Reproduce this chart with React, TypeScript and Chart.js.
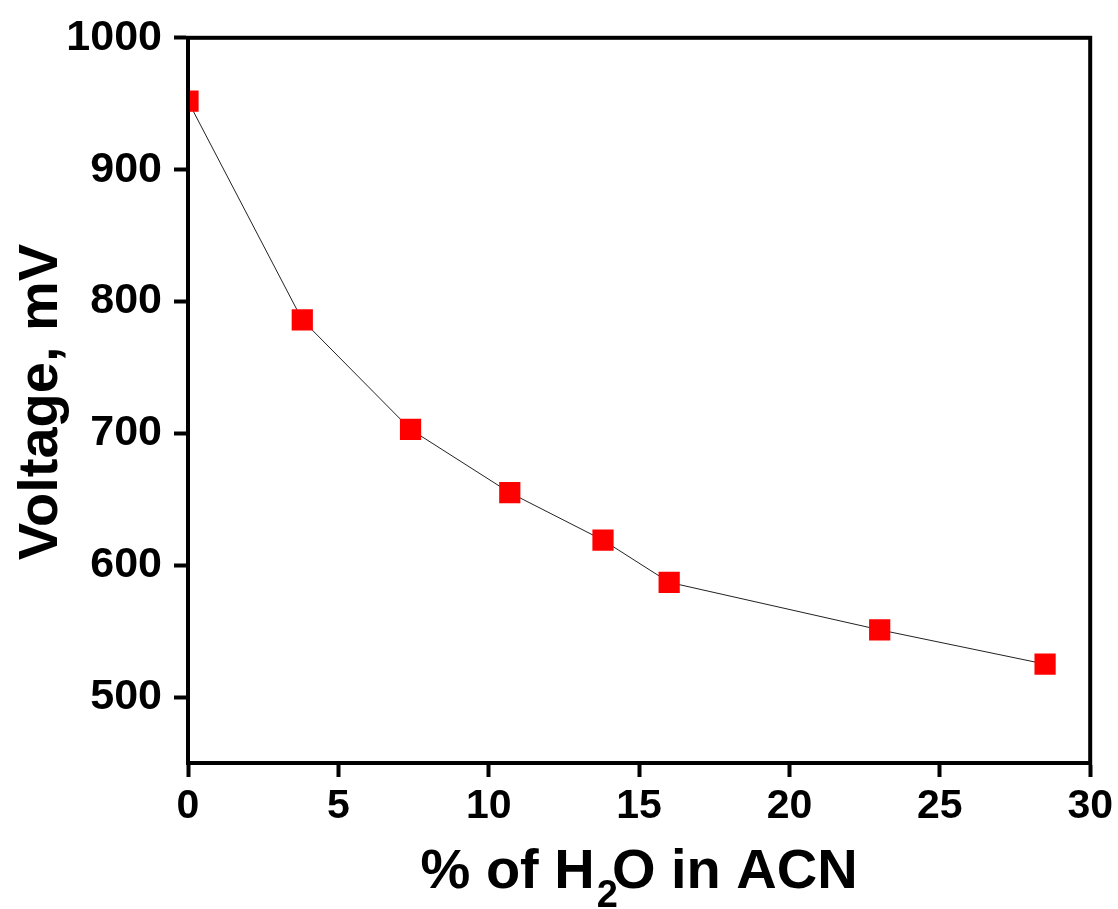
import React, { useEffect, useRef } from "react";
import { Chart, registerables } from "chart.js";

Chart.register(...registerables);

const waterPercent = [0, 3.8, 7.4, 10.7, 13.8, 16.0, 23.0, 28.5];
const voltage = [952, 786, 703, 655, 619, 587, 551, 525];
const xTicks = [0, 5, 10, 15, 20, 25, 30];
const yTicks = [500, 600, 700, 800, 900, 1000];
const yTitle = "Voltage, mV";
const xTitleParts = ["% of H", "2", "O in ACN"];

const FONT = "'Liberation Sans', Arial, sans-serif";

const titlePlugin = {
  id: "customTitles",
  afterDraw(chart: any) {
    const ctx = chart.ctx;
    const area = chart.chartArea;
    ctx.save();
    // frame
    ctx.strokeStyle = "#000";
    ctx.lineWidth = 4;
    ctx.strokeRect(area.left, area.top, area.right - area.left, area.bottom - area.top);
    // y title
    ctx.fillStyle = "#000";
    ctx.font = `bold 56px ${FONT}`;
    ctx.textAlign = "center";
    ctx.textBaseline = "alphabetic";
    ctx.translate(57, 402);
    ctx.rotate(-Math.PI / 2);
    ctx.fillText(yTitle, 0, 0);
    ctx.restore();

    // x title with subscript
    ctx.save();
    ctx.fillStyle = "#000";
    ctx.textAlign = "left";
    ctx.textBaseline = "alphabetic";
    const big = `bold 56px ${FONT}`;
    const small = `bold 38px ${FONT}`;
    ctx.font = big;
    const w1 = ctx.measureText(xTitleParts[0]).width;
    const w3 = ctx.measureText(xTitleParts[2]).width;
    ctx.font = small;
    const w2 = ctx.measureText(xTitleParts[1]).width;
    const gap = -4;
    const total = w1 + w2 + w3 + gap;
    const cx = (area.left + area.right) / 2;
    let x = cx - total / 2;
    const base = 888;
    ctx.font = big;
    ctx.fillText(xTitleParts[0], x, base);
    x += w1 + 2;
    ctx.font = small;
    ctx.fillText(xTitleParts[1], x, base + 19);
    x += w2 + gap - 2;
    ctx.font = big;
    ctx.fillText(xTitleParts[2], x, base);
    ctx.restore();
  },
};

export default function App() {
  const ref = useRef<HTMLCanvasElement>(null);
  useEffect(() => {
    document.body.style.margin = "0";
    const canvas = ref.current!;
    const chart = new Chart(canvas, {
      type: "scatter",
      data: {
        datasets: [
          {
            data: waterPercent.map((x, i) => ({ x, y: voltage[i] })),
            showLine: true,
            borderColor: "#222",
            borderWidth: 1,
            pointStyle: "rect",
            pointRadius: 15,
            pointHoverRadius: 15,
            pointBackgroundColor: "#ff0000",
            pointBorderColor: "#ff0000",
            pointBorderWidth: 0,
            tension: 0,
          },
        ],
      },
      options: {
        animation: false,
        responsive: false,
        devicePixelRatio: 1,
        layout: { padding: { left: 0, top: 34, right: 27, bottom: 0 } },
        plugins: { legend: { display: false }, tooltip: { enabled: false }, title: { display: false } },
        scales: {
          x: {
            type: "linear",
            min: 0,
            max: 30,
            afterBuildTicks: (s: any) => {
              s.ticks = xTicks.map((v) => ({ value: v }));
            },
            afterFit: (s: any) => {
              s.height = 909 - 763;
            },
            grid: {
              display: true,
              drawOnChartArea: false,
              drawTicks: true,
              tickLength: 14,
              tickWidth: 4,
              color: "#000",
            },
            border: { display: true, width: 4, color: "#000" },
            ticks: {
              color: "#000",
              font: { family: FONT, size: 41, weight: "bold" },
              padding: 5,
              maxRotation: 0,
              callback: (v: any) => String(v),
            },
          },
          y: {
            type: "linear",
            min: 450,
            max: 1000,
            afterBuildTicks: (s: any) => {
              s.ticks = yTicks.map((v) => ({ value: v }));
            },
            afterFit: (s: any) => {
              s.width = 188;
            },
            grid: {
              display: true,
              drawOnChartArea: false,
              drawTicks: true,
              tickLength: 14,
              tickWidth: 4,
              color: "#000",
            },
            border: { display: true, width: 4, color: "#000" },
            ticks: {
              color: "#000",
              font: { family: FONT, size: 43, weight: "bold" },
              padding: 12,
              callback: (v: any) => String(v),
            },
          },
        },
      },
      plugins: [titlePlugin],
    } as any);
    return () => chart.destroy();
  }, []);
  return (
    <div style={{ width: 1118, height: 909, background: "#fff" }}>
      <canvas ref={ref} width={1118} height={909} style={{ display: "block" }} />
    </div>
  );
}
